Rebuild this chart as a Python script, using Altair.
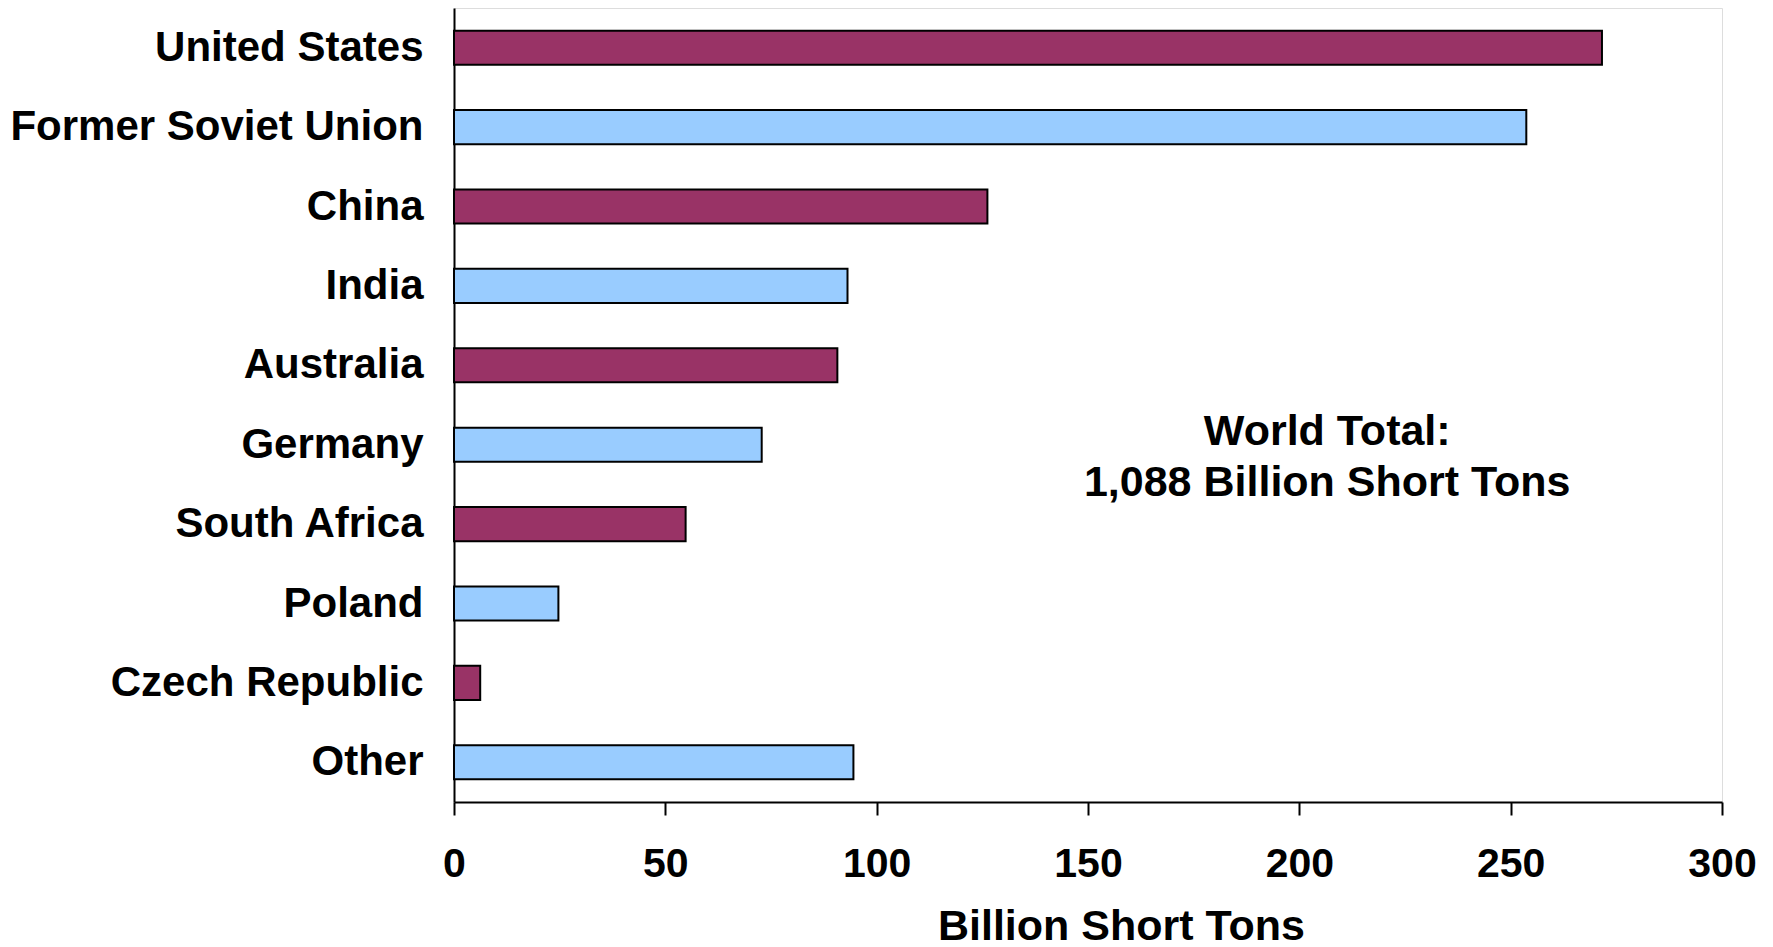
import altair as alt
import pandas as pd

countries = ["United States", "Former Soviet Union", "China", "India", "Australia",
             "Germany", "South Africa", "Poland", "Czech Republic", "Other"]
reserves = [271.6, 253.7, 126.2, 93.1, 90.7, 72.8, 54.8, 24.7, 6.2, 94.5]
shade = ["A", "B", "A", "B", "A", "B", "A", "B", "A", "B"]

note_lines = ["World Total:", "1,088 Billion Short Tons"]
note_x = [206.6]
note_row = ["Germany"]

df = pd.DataFrame({"country": countries, "reserves": reserves, "shade": shade})
note_df = pd.DataFrame({"x": note_x, "country": note_row, "label": [note_lines]})

FONT = "Liberation Sans"
W, H = 1268, 794

y_enc = alt.Y("country:N", sort=countries,
              scale=alt.Scale(paddingInner=0.57),
              axis=alt.Axis(title=None, ticks=False, labelPadding=31, labelLimit=0,
                            labelFontSize=42, labelFont=FONT, labelFontWeight="bold",
                            labelColor="black", domainColor="black", domainWidth=2))

bars = alt.Chart(df).mark_bar(stroke="black", strokeWidth=2).encode(
    x=alt.X("reserves:Q", scale=alt.Scale(domain=[0, 300], nice=False),
            axis=alt.Axis(title="Billion Short Tons", values=[0, 50, 100, 150, 200, 250, 300],
                          grid=False, tickSize=13, tickWidth=2, tickColor="black",
                          domainColor="black", domainWidth=2, labelFlush=False,
                          labelFontSize=41, labelFont=FONT, labelFontWeight="bold",
                          labelColor="black", labelPadding=29, labelBaseline="top",
                          titleFontSize=43, titleFont=FONT, titleFontWeight="bold",
                          titleColor="black", titleBaseline="alphabetic",
                          titleX=667, titleY=137)),
    y=y_enc,
    color=alt.Color("shade:N", scale=alt.Scale(domain=["A", "B"], range=["#993366", "#99CCFF"]),
                    legend=None),
)

note = alt.Chart(note_df).mark_text(font=FONT, fontWeight="bold", fontSize=43,
                                    color="black", align="center", baseline="middle",
                                    lineHeight=51, dy=-13).encode(
    x=alt.X("x:Q"),
    y=alt.Y("country:N", sort=countries),
    text="label",
)

chart = alt.layer(bars, note).properties(
    width=W, height=H,
    autosize=alt.AutoSizeParams(type="none"),
    padding={"left": 454, "top": 8, "right": 51, "bottom": 145},
).configure_view(stroke="black", strokeWidth=2).configure(background="white")

chart.save("out.html", embed_options={"renderer": "svg", "actions": False})
